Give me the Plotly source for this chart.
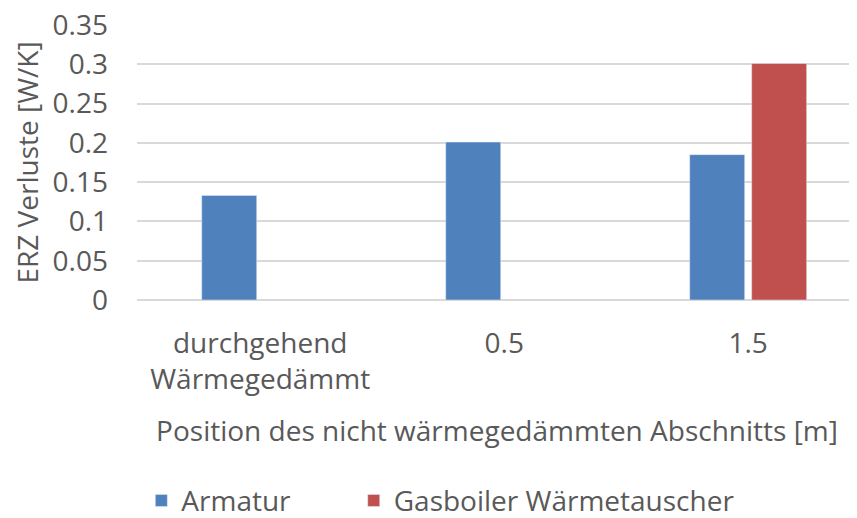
import plotly.graph_objects as go

categories = ["durchgehend<br>Wärmegedämmt", "0.5", "1.5"]
armatur = [0.133, 0.201, 0.185]
gasboiler = [None, None, 0.301]
y_ticks = [0, 0.05, 0.1, 0.15, 0.2, 0.25, 0.3, 0.35]
y_tick_text = ["0", "0.05", "0.1", "0.15", "0.2", "0.25", "0.3", "0.35"]

TEXT = "#595959"
GRID = "#d9d9d9"
FONT = "Open Sans"
SIZE = 28

fig = go.Figure()
fig.add_trace(go.Bar(x=categories, y=armatur, name="Armatur", marker_color="#4f81bd",
                     legend="legend"))
fig.add_trace(go.Bar(x=categories, y=gasboiler, name="Gasboiler Wärmetauscher",
                     marker_color="#c0504d", legend="legend2"))

legend_style = dict(
    orientation="h",
    y=-0.73, yanchor="middle",
    xanchor="left",
    font=dict(family=FONT, size=SIZE, color=TEXT),
    itemwidth=30,
    bgcolor="rgba(0,0,0,0)",
)

# page body has an 8px margin, so the figure is shifted up/left by that much
fig.update_layout(
    width=849,
    height=510,
    paper_bgcolor="white",
    plot_bgcolor="white",
    font=dict(family=FONT, size=SIZE, color=TEXT),
    barmode="group",
    bargap=0.492,
    bargroupgap=0.113,
    margin=dict(l=129, r=0, t=17, b=218, autoexpand=False),
    showlegend=True,
    legend=dict(x=0.006, **legend_style),
    legend2=dict(x=0.301, **legend_style),
    xaxis=dict(
        range=[-0.505, 2.446],
        showgrid=False,
        showline=False,
        zeroline=False,
        ticks="",
        ticklabelstandoff=24,
        tickfont=dict(family=FONT, size=SIZE, color=TEXT),
        title=dict(text="Position des nicht wärmegedämmten Abschnitts [m]",
                   font=dict(family=FONT, size=SIZE, color=TEXT), standoff=24),
    ),
    yaxis=dict(
        range=[0, 0.35],
        tickvals=y_ticks,
        ticktext=y_tick_text,
        ticklabeloverflow="allow",
        showgrid=True,
        gridcolor=GRID,
        gridwidth=1.5,
        zeroline=True,
        zerolinecolor=GRID,
        zerolinewidth=1.5,
        showline=False,
        ticks="",
        ticklabelstandoff=28,
        tickfont=dict(family=FONT, size=SIZE, color=TEXT),
        title=dict(text="ERZ Verluste [W/K]",
                   font=dict(family=FONT, size=SIZE, color=TEXT), standoff=8),
    ),
)

fig.write_html("out.html")
